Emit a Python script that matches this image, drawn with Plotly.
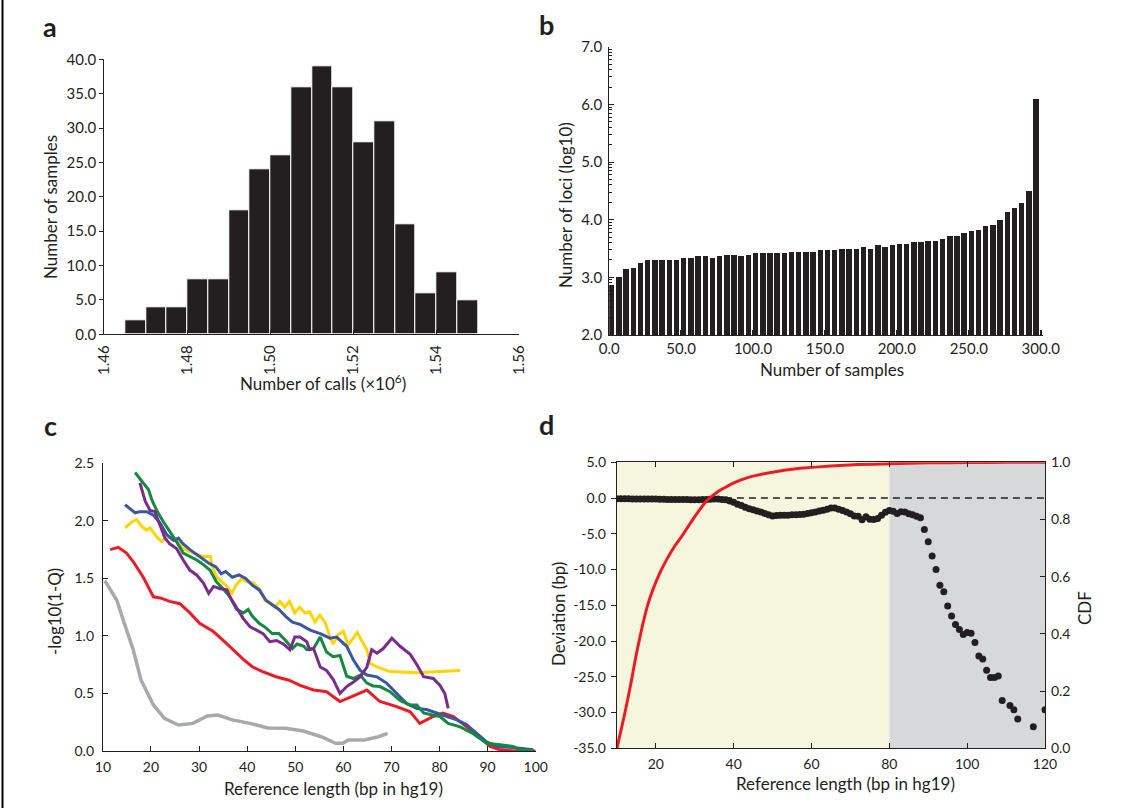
import plotly.graph_objects as go

W, H = 1134, 808
INK = "#231f20"
FONT = "Lato, 'Open Sans', sans-serif"


def fx(p):
    return p / W


def fy(p):
    return 1 - p / H


# ---------------- Panel a: histogram of number of calls ----------------
a_bin_left = [1.465, 1.470, 1.475, 1.480, 1.485, 1.490, 1.495, 1.500, 1.505,
              1.510, 1.515, 1.520, 1.525, 1.530, 1.535, 1.540, 1.545]
a_counts = [2, 4, 4, 8, 8, 18, 24, 26, 36, 39, 36, 28, 31, 16, 6, 9, 5]
a_xticks = [1.46, 1.48, 1.50, 1.52, 1.54, 1.56]

# ---------------- Panel b: number of loci (log10) per sample block ----------------
b_bin_start = [0, 5, 10, 15, 20, 25, 30, 35, 40, 45,
               50, 55, 60, 65, 70, 75, 80, 85, 90, 95,
               100, 105, 110, 115, 120, 125, 130, 135, 140, 145,
               150, 155, 160, 165, 170, 175, 180, 185, 190, 195,
               200, 205, 210, 215, 220, 225, 230, 235, 240, 245,
               250, 255, 260, 265, 270, 275, 280, 285, 290, 295]
b_log_loci = [2.88, 3.01, 3.15, 3.17, 3.26, 3.30, 3.30, 3.31, 3.31, 3.31,
              3.34, 3.34, 3.37, 3.37, 3.34, 3.37, 3.40, 3.40, 3.37, 3.40,
              3.43, 3.43, 3.43, 3.43, 3.43, 3.45, 3.45, 3.45, 3.45, 3.48,
              3.48, 3.48, 3.50, 3.50, 3.50, 3.53, 3.50, 3.56, 3.53, 3.56,
              3.59, 3.59, 3.62, 3.62, 3.64, 3.64, 3.67, 3.73, 3.73, 3.78,
              3.81, 3.83, 3.89, 3.92, 4.00, 4.13, 4.21, 4.30, 4.51, 6.09]
b_last_start = [300]
b_last_value = [2.1]
b_xticks = [0, 50, 100, 150, 200, 250, 300]
b_yticks = [2, 3, 4, 5, 6, 7]
b_minor = [d + m for d in [2, 3, 4, 5, 6]
           for m in [0.301, 0.477, 0.602, 0.699, 0.778, 0.845, 0.903, 0.954]]

# ---------------- Panel c: -log10(1-Q) vs reference length ----------------
gray_x = [10.4, 12.9, 14.2, 16.3, 17.9, 20.5, 22.8, 25.7, 28.7, 31.7, 33.9, 36.9,
          40.6, 44.3, 48.0, 51.7, 55.4, 58.4, 59.9, 61.0, 64.4, 67.3, 69.2]
gray_y = [1.48, 1.31, 1.14, 0.88, 0.62, 0.40, 0.284, 0.226, 0.24, 0.304, 0.313, 0.27,
          0.24, 0.20, 0.197, 0.174, 0.124, 0.067, 0.067, 0.096, 0.096, 0.124, 0.153]

red_x = [11.5, 13.2, 14.9, 16.3, 18.4, 20.5, 21.9, 23.9, 26.0, 28.1, 30.1, 32.9,
         34.9, 37.0, 39.1, 41.1, 43.2, 46.0, 48.7, 51.0, 53.8, 56.5, 59.3, 62.1,
         64.9, 67.6, 71.1, 73.9, 75.9, 78.7, 80.7, 82.9, 85.6, 88.4, 90.5, 92.6, 96.0, 100.0]
red_y = [1.75, 1.77, 1.72, 1.645, 1.51, 1.34, 1.33, 1.30, 1.28, 1.20, 1.11, 1.04,
         0.965, 0.88, 0.80, 0.73, 0.69, 0.645, 0.615, 0.57, 0.53, 0.515, 0.43, 0.48,
         0.53, 0.43, 0.385, 0.34, 0.24, 0.30, 0.33, 0.30, 0.21, 0.12, 0.04, 0.01, 0.0, 0.0]

yellow_x = [14.6, 16.0, 17.0, 18.1, 19.1, 19.8, 21.2, 22.2, 23.6, 25.3, 26.7, 28.8,
            30.9, 32.4, 32.6, 33.7, 35.8, 36.8, 37.8, 38.9, 39.9, 41.3, 42.7, 43.7,
            44.7, 45.8, 46.8, 47.8, 48.8, 49.9, 50.9, 52.0, 53.0, 54.1, 55.1, 56.2,
            57.2, 57.9, 58.9, 60.0, 61.0, 61.7, 62.9, 63.8, 64.9, 65.6, 67.0, 69.7,
            75.3, 80.1, 84.3]
yellow_y = [1.94, 1.99, 2.01, 1.95, 1.92, 1.94, 1.86, 1.82, 1.86, 1.83, 1.76, 1.72,
            1.69, 1.69, 1.62, 1.51, 1.43, 1.37, 1.45, 1.50, 1.47, 1.46, 1.40, 1.31,
            1.28, 1.25, 1.30, 1.25, 1.30, 1.20, 1.25, 1.20, 1.21, 1.12, 1.18, 1.12,
            0.99, 0.93, 1.01, 1.04, 0.92, 0.96, 1.03, 0.96, 0.88, 0.76, 0.73, 0.69,
            0.68, 0.69, 0.70]

blue_x = [14.6, 15.6, 16.7, 17.7, 19.1, 20.5, 21.9, 23.3, 24.7, 25.7, 26.7, 28.1,
          30.1, 32.1, 33.5, 34.6, 35.5, 36.9, 38.3, 39.7, 41.1, 42.5, 43.9, 45.2,
          46.6, 48.0, 49.4, 51.0, 53.1, 55.2, 57.2, 58.6, 60.7, 62.1, 63.5, 64.9,
          67.0, 69.0, 71.1, 73.2, 75.3, 77.3, 79.4, 81.5, 83.6, 85.6, 87.7, 89.8,
          91.9, 95.3, 99.5]
blue_y = [2.14, 2.11, 2.07, 2.08, 2.08, 2.05, 1.98, 1.88, 1.83, 1.85, 1.80, 1.75,
          1.69, 1.63, 1.60, 1.54, 1.56, 1.51, 1.53, 1.50, 1.44, 1.40, 1.31, 1.27,
          1.23, 1.17, 1.12, 1.10, 1.05, 1.02, 0.98, 0.99, 0.91, 0.79, 0.70, 0.66,
          0.644, 0.59, 0.50, 0.41, 0.37, 0.36, 0.33, 0.30, 0.27, 0.23, 0.155, 0.08,
          0.04, 0.03, 0.01]

green_x = [16.7, 18.4, 19.5, 20.2, 21.2, 22.6, 23.9, 25.3, 26.7, 28.1, 29.5, 30.9,
           32.3, 33.6, 35.0, 36.4, 37.8, 39.2, 40.2, 41.1, 42.5, 43.9, 45.2, 46.6,
           48.0, 49.4, 50.4, 51.8, 52.4, 53.8, 55.2, 56.5, 57.9, 59.3, 60.7, 62.1,
           63.5, 64.9, 66.2, 67.6, 69.7, 71.8, 73.9, 75.3, 76.7, 78.7, 80.1, 81.8,
           84.3, 87.0, 89.8, 92.6, 95.3, 96.7, 99.5]
green_y = [2.42, 2.33, 2.27, 2.18, 2.09, 1.99, 1.91, 1.82, 1.72, 1.69, 1.66, 1.62,
           1.57, 1.47, 1.41, 1.34, 1.23, 1.20, 1.23, 1.17, 1.11, 1.07, 1.02, 1.02,
           0.96, 0.89, 0.93, 0.91, 0.88, 0.89, 0.99, 0.86, 0.82, 0.83, 0.65, 0.63,
           0.66, 0.59, 0.565, 0.56, 0.515, 0.44, 0.40, 0.40, 0.33, 0.31, 0.30, 0.24,
           0.21, 0.15, 0.067, 0.055, 0.04, 0.01, 0.005]

purple_x = [17.7, 18.8, 19.8, 20.8, 21.9, 22.9, 23.9, 25.3, 26.7, 28.1, 29.5, 30.9,
            32.0, 33.0, 34.4, 35.8, 36.4, 37.8, 39.2, 40.6, 42.0, 43.3, 44.7, 46.1,
            47.5, 48.9, 49.9, 51.0, 52.4, 53.0, 53.8, 55.2, 56.5, 57.9, 59.3, 60.7,
            62.1, 63.5, 64.9, 65.9, 67.0, 68.3, 70.1, 71.8, 73.9, 75.3, 76.7, 78.7,
            80.1, 81.1, 81.8]
purple_y = [2.33, 2.17, 2.09, 2.08, 1.96, 1.85, 1.80, 1.76, 1.66, 1.57, 1.53, 1.46,
            1.37, 1.43, 1.41, 1.40, 1.34, 1.24, 1.15, 1.08, 1.05, 1.02, 0.95, 0.96,
            0.93, 0.88, 0.99, 0.99, 0.95, 0.88, 0.89, 0.73, 0.70, 0.62, 0.50, 0.56,
            0.60, 0.645, 0.73, 0.88, 0.85, 0.89, 0.98, 0.91, 0.84, 0.75, 0.645, 0.63,
            0.57, 0.50, 0.37]

c_series = [
    (gray_x, gray_y, "#a7a9ac", 3.5),
    (red_x, red_y, "#ed1c24", 3),
    (yellow_x, yellow_y, "#ffd400", 3),
    (blue_x, blue_y, "#3c56a6", 3),
    (green_x, green_y, "#138a3f", 3),
    (purple_x, purple_y, "#7b2b8d", 3),
]

# ---------------- Panel d: deviation and CDF vs reference length ----------------
dev_x = [10, 11, 12, 13, 14, 15, 16, 17, 18, 19, 20, 21, 22, 23, 24, 25, 26, 27, 28,
         29, 30, 31, 32, 33, 34, 35, 36, 37, 38, 39, 40, 41, 42, 43, 44, 45, 46, 47,
         48, 49, 50, 51, 52, 53, 54, 55, 56, 57, 58, 59, 60, 61, 62, 63, 64, 65, 66,
         67, 68, 69, 70, 71, 72, 73, 74, 75, 76, 77, 78, 79, 80, 81, 82, 83, 84, 85,
         86, 87, 88, 89, 90, 91, 92, 93, 94, 95, 96, 97, 98, 99, 100, 101, 102, 103,
         104, 105, 106, 107, 108, 109, 111, 112, 113, 117, 120]
dev_y = [-0.10, -0.10, -0.10, -0.10, -0.12, -0.12, -0.12, -0.15, -0.15, -0.15,
         -0.15, -0.18, -0.18, -0.20, -0.20, -0.20, -0.22, -0.22, -0.22, -0.25,
         -0.25, -0.25, -0.22, -0.20, -0.18, -0.15, -0.15, -0.20, -0.25, -0.40,
         -0.60, -0.85, -1.05, -1.30, -1.50, -1.65, -1.80, -1.95, -2.15, -2.35,
         -2.50, -2.45, -2.40, -2.40, -2.40, -2.35, -2.35, -2.30, -2.25, -2.15,
         -2.05, -1.95, -1.80, -1.70, -1.55, -1.40, -1.40, -1.55, -1.75, -1.95,
         -2.20, -2.50, -2.55, -3.05, -2.60, -2.95, -3.00, -2.85, -2.40, -2.00,
         -1.75, -1.85, -2.15, -1.90, -1.95, -2.20, -2.35, -2.55, -2.75,
         -4.4, -6.1, -8.1, -10.0, -12.2, -13.1, -15.1, -16.5, -17.7, -18.4, -19.1,
         -18.8, -18.9, -20.2, -22.1, -22.5, -24.1, -25.1, -25.1, -24.9, -28.3,
         -29.0, -29.6, -30.9, -32.0, -29.6]

cdf_x = [10, 12, 13.6, 15, 16.5, 18, 19.4, 21.1, 23, 25, 27.1, 30, 33.1, 36, 39.9,
         44, 48.5, 53, 57.1, 65, 72, 80.2, 90, 100, 110, 120]
cdf_y = [0.0, 0.12, 0.227, 0.33, 0.425, 0.505, 0.56, 0.615, 0.665, 0.71, 0.75,
         0.81, 0.866, 0.898, 0.927, 0.948, 0.962, 0.972, 0.979, 0.987, 0.992,
         0.995, 0.998, 0.999, 1.0, 1.0]

d_yticks = [5, 0, -5, -10, -15, -20, -25, -30, -35]
d_yticktext = ["5.0", "0.0", "-5.0", "-10.0", "-15.0", "-20.0", "-25.0", "-30.0", "-35.0"]

d_shaded_regions = [(10, 80, "#f6f5dd"), (80, 120, "#d7d8da")]

# ---------------------------------------------------------------------------
fig = go.Figure()

fig.add_trace(go.Bar(
    x=a_bin_left, y=a_counts, width=0.005, offset=0,
    marker=dict(color=INK, line=dict(color="white", width=1)),
    xaxis="x", yaxis="y", showlegend=False))

fig.add_trace(go.Bar(
    x=b_bin_start, y=b_log_loci, width=3.8, offset=0,
    marker=dict(color=INK, line=dict(width=0)),
    xaxis="x2", yaxis="y2", showlegend=False))
fig.add_trace(go.Bar(
    x=b_last_start, y=b_last_value, width=1.3, offset=0,
    marker=dict(color=INK, line=dict(width=0)),
    xaxis="x2", yaxis="y2", showlegend=False))

for xs, ys, col, lw in c_series:
    fig.add_trace(go.Scatter(
        x=xs, y=ys, mode="lines", line=dict(color=col, width=lw),
        xaxis="x3", yaxis="y3", showlegend=False))

fig.add_trace(go.Scatter(
    x=dev_x, y=dev_y, mode="markers",
    marker=dict(color=INK, size=7, line=dict(width=0)),
    xaxis="x4", yaxis="y4", showlegend=False))
fig.add_trace(go.Scatter(
    x=cdf_x, y=cdf_y, mode="lines",
    line=dict(color="#ed1c24", width=3, shape="spline", smoothing=0.3),
    xaxis="x4", yaxis="y5", showlegend=False))

tickfont = dict(family=FONT, size=14, color=INK)
base_axis = dict(showgrid=False, zeroline=False, showline=True, linecolor=INK,
                 linewidth=1.2, tickcolor=INK, tickfont=tickfont, automargin=False)

layout = dict(
    width=W, height=H, autosize=False,
    margin=dict(l=0, r=0, t=0, b=0, pad=0, autoexpand=False),
    paper_bgcolor="white", plot_bgcolor="rgba(0,0,0,0)",
    font=dict(family=FONT, color=INK), bargap=0, showlegend=False,
    xaxis=dict(base_axis, domain=[fx(104.3), fx(519.3)], range=[1.46, 1.56],
               anchor="y", tickmode="array", tickvals=a_xticks, tickformat=".2f",
               tickangle=-90, ticks="inside", ticklen=4, ticklabelstandoff=4,
               tickfont=dict(family=FONT, size=15, color=INK)),
    yaxis=dict(base_axis, domain=[fy(334.3), fy(59.3)], range=[0, 40], anchor="x",
               dtick=5, tickformat=".1f", ticks="outside", ticklen=4,
               tickfont=dict(family=FONT, size=15, color=INK)),
    xaxis2=dict(base_axis, domain=[fx(609.2), fx(1042.9)], range=[0, 301.5],
                anchor="y2", tickmode="array", tickvals=b_xticks, tickformat=".1f",
                ticks="inside", ticklen=5, tickwidth=2,
                tickfont=dict(family=FONT, size=15, color=INK)),
    yaxis2=dict(base_axis, domain=[fy(335), fy(46.7)], range=[2, 7], anchor="x2",
                tickmode="array", tickvals=b_yticks, tickformat=".1f",
                ticks="inside", ticklen=5, ticklabelstandoff=3,
                tickfont=dict(family=FONT, size=15, color=INK),
                minor=dict(tickmode="array", tickvals=b_minor, ticks="inside",
                           ticklen=3, tickcolor=INK, tickwidth=1)),
    xaxis3=dict(base_axis, domain=[fx(102.9), fx(535.7)], range=[10, 100],
                anchor="y3", dtick=10, ticks="inside", ticklen=5, ticklabelstandoff=3),
    yaxis3=dict(base_axis, domain=[fy(751), fy(463.3)], range=[0, 2.5], anchor="x3",
                dtick=0.5, tickformat=".1f", ticks="inside", ticklen=5,
                ticklabelstandoff=5),
    xaxis4=dict(base_axis, domain=[fx(616.9), fx(1045)], range=[10, 120],
                anchor="y4", tickmode="array", tickvals=[20, 40, 60, 80, 100, 120],
                ticks="inside", ticklen=5, mirror="ticks", ticklabelstandoff=3),
    yaxis4=dict(base_axis, domain=[fy(748.3), fy(462.3)], range=[-35, 5],
                anchor="x4", tickmode="array", tickvals=d_yticks,
                ticktext=d_yticktext, ticks="outside", ticklen=5,
                mirror=True, ticklabelstandoff=2),
    yaxis5=dict(base_axis, range=[0, 1], overlaying="y4", side="right",
                anchor="x4", dtick=0.2, tickformat=".1f", ticks="inside",
                ticklen=5, ticklabelstandoff=2),
)
fig.update_layout(**layout)

shapes = []
for x0, x1, col in d_shaded_regions:
    shapes.append(dict(type="rect", xref="x4", yref="y4", x0=x0, x1=x1,
                       y0=-35, y1=5, fillcolor=col, line=dict(width=0),
                       layer="below"))
shapes.append(dict(type="line", xref="x4", yref="y4", x0=10, x1=120, y0=0, y1=0,
                   line=dict(color=INK, width=1.5, dash="7px,5px"), layer="below"))
shapes.append(dict(type="line", xref="paper", yref="paper", x0=fx(2.5), x1=fx(2.5),
                   y0=0, y1=1, line=dict(color="black", width=2)))
fig.update_layout(shapes=shapes)

title_font = dict(family=FONT, size=17, color=INK)
annotations = []
for letter, x, y in [("a", 50, 26), ("b", 546, 24), ("c", 50, 425), ("d", 546, 424)]:
    annotations.append(dict(text="<b>" + letter + "</b>", x=fx(x), y=fy(y),
                            xref="paper", yref="paper", showarrow=False,
                            xanchor="center", yanchor="middle",
                            font=dict(family=FONT, size=27, color=INK)))

axis_titles = [
    ("Number of samples", 50, 207, -90),
    ("Number of calls (×10<sup>6</sup>)", 323, 382, 0),
    ("Number of loci (log10)", 565, 205, -90),
    ("Number of samples", 832, 369, 0),
    ("-log10(1-Q)", 54, 612, -90),
    ("Reference length (bp in hg19)", 333, 788, 0),
    ("Deviation (bp)", 558, 614, -90),
    ("CDF", 1084, 608, -90),
    ("Reference length (bp in hg19)", 845, 783, 0),
]
for text, x, y, ang in axis_titles:
    annotations.append(dict(text=text, x=fx(x), y=fy(y), xref="paper", yref="paper",
                            showarrow=False, textangle=ang, xanchor="center",
                            yanchor="middle", font=title_font))
fig.update_layout(annotations=annotations)

fig.write_html("out.html")
